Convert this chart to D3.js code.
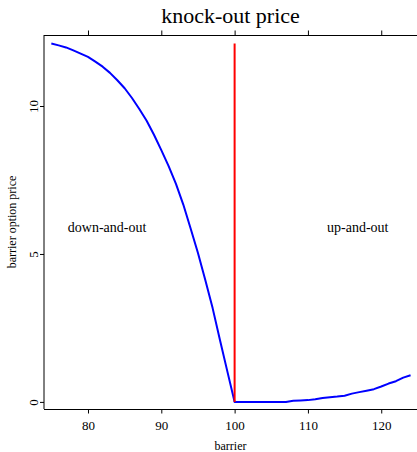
<!DOCTYPE html>
<html>
<head>
<meta charset="utf-8">
<script src="https://cdn.jsdelivr.net/npm/d3@7"></script>
<style>
  html, body { margin: 0; padding: 0; background: #fff; }
  svg { display: block; }
</style>
</head>
<body>
<svg id="chart" width="417" height="452"></svg>
<script>
// Barrier levels (strike region 75..124)
const barriers = d3.range(75, 125);

// Knock-out option price for each barrier level
const prices = [
  12.11, 12.05, 11.98, 11.88, 11.77, 11.66, 11.50, 11.33, 11.12, 10.87,
  10.60, 10.27, 9.90, 9.50, 9.03, 8.51, 7.97, 7.37, 6.67, 5.86,
  5.03, 4.12, 3.17, 2.09, 1.04, 0.00, 0.00, 0.00, 0.00, 0.00,
  0.00, 0.00, 0.00, 0.04, 0.05, 0.06, 0.09, 0.13, 0.16, 0.18,
  0.21, 0.28, 0.33, 0.38, 0.43, 0.52, 0.62, 0.70, 0.82, 0.90
];

const xTicks = [80, 90, 100, 110, 120];
const yTicks = [0, 5, 10];
const spot = 100;
const regionLabels = ["down-and-out", "up-and-out"];
const regionLabelX = [82.6, 116.8];
const regionLabelY = 5.75;

const serif = '"Liberation Serif", "Times New Roman", Times, serif';
const svg = d3.select("#chart");
const plotLeft = 44, plotRight = 417.9, plotTop = 35, plotBottom = 409;

const x = d3.scaleLinear().domain([74, 125]).range([plotLeft, plotRight]);
const y = d3.scaleLinear().domain([-0.24, 12.4]).range([plotBottom, plotTop]);

// Frame: left, bottom and top lines
svg.append("line").attr("x1", plotLeft).attr("x2", plotLeft).attr("y1", plotTop).attr("y2", plotBottom)
  .attr("stroke", "#000").attr("stroke-width", 1);
svg.append("line").attr("x1", plotLeft).attr("x2", 417).attr("y1", plotBottom + 0.5).attr("y2", plotBottom + 0.5)
  .attr("stroke", "#000").attr("stroke-width", 1);
svg.append("line").attr("x1", plotLeft).attr("x2", 417).attr("y1", plotTop + 0.5).attr("y2", plotTop + 0.5)
  .attr("stroke", "#000").attr("stroke-width", 1);

// Bottom axis
const xAxis = svg.append("g").attr("transform", `translate(0,${plotBottom + 0.5})`)
  .call(d3.axisBottom(x).tickValues(xTicks).tickSize(4).tickPadding(7).tickFormat(d3.format("d")));
xAxis.select(".domain").remove();
xAxis.attr("font-family", serif).attr("font-size", 13);

// Top axis ticks (no labels)
const xTop = svg.append("g").attr("transform", `translate(0,${plotTop + 0.5})`)
  .call(d3.axisTop(x).tickValues(xTicks).tickSize(5).tickFormat(""));
xTop.select(".domain").remove();

// Left axis with rotated labels
const yAxis = svg.append("g").attr("transform", `translate(${plotLeft},0)`)
  .call(d3.axisLeft(y).tickValues(yTicks).tickSize(4).tickFormat(d3.format("d")));
yAxis.select(".domain").remove();
yAxis.attr("font-family", serif).attr("font-size", 13);
yAxis.selectAll("text")
  .attr("x", null).attr("dy", null)
  .attr("text-anchor", "middle")
  .attr("transform", "translate(-6,0) rotate(-90)");

// Price curve
const line = d3.line().x((d, i) => x(barriers[i])).y(d => y(d));
svg.append("path").datum(prices)
  .attr("fill", "none").attr("stroke", "#0000ff").attr("stroke-width", 2)
  .attr("stroke-linejoin", "round").attr("d", line);

// Current spot marker
svg.append("line")
  .attr("x1", x(spot)).attr("x2", x(spot))
  .attr("y1", y(0)).attr("y2", y(d3.max(prices)))
  .attr("stroke", "#ff0000").attr("stroke-width", 2);

// Region labels
svg.selectAll(".region").data(regionLabels).enter().append("text")
  .attr("class", "region")
  .attr("x", (d, i) => x(regionLabelX[i]))
  .attr("y", y(regionLabelY))
  .attr("text-anchor", "middle")
  .attr("font-family", serif).attr("font-size", 14)
  .text(d => d);

// Titles
svg.append("text").attr("x", (plotLeft + 417) / 2).attr("y", 23)
  .attr("text-anchor", "middle").attr("font-family", serif).attr("font-size", 22)
  .text("knock-out price");
svg.append("text").attr("x", (plotLeft + 417) / 2).attr("y", 450)
  .attr("text-anchor", "middle").attr("font-family", serif).attr("font-size", 12)
  .text("barrier");
svg.append("text")
  .attr("transform", `translate(16,${(plotTop + plotBottom) / 2}) rotate(-90)`)
  .attr("text-anchor", "middle").attr("font-family", serif).attr("font-size", 12)
  .text("barrier option price");
</script>
</body>
</html>
